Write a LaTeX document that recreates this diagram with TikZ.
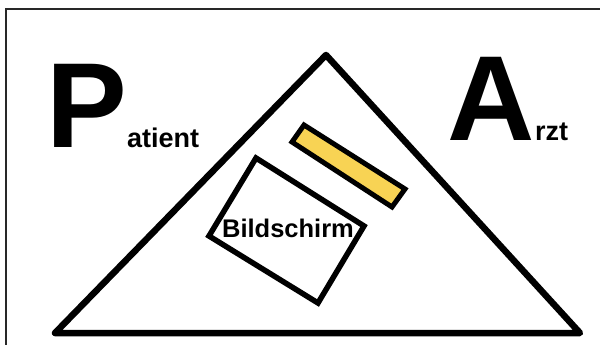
\documentclass[tikz,border=0pt]{standalone}
\usepackage{fontspec}
\setmainfont{Liberation Sans}
\definecolor{baryellow}{RGB}{248,211,84}
\definecolor{framegray}{RGB}{40,40,40}
\begin{document}
\begin{tikzpicture}[x=1pt,y=-1pt,
  outline/.style={draw=black,line width=6.5pt,line join=round},
  screenstyle/.style={draw=black,line width=5.5pt,line join=miter},
  barstyle/.style={draw=black,fill=baryellow,line width=5pt,line join=miter},
  bigletter/.style={inner sep=0pt,anchor=base west,font=\fontsize{121}{121}\selectfont\bfseries},
  smallword/.style={inner sep=0pt,anchor=base west,font=\fontsize{27}{27}\selectfont\bfseries}]
\useasboundingbox (0,0) rectangle (600,345);
\fill[white] (0,0) rectangle (600,345);
% frame (top and left edges)
\coordinate (fl) at (6,345);
\coordinate (ftl) at (6,9);
\coordinate (ftr) at (600,9);
\draw[framegray,line width=1.2pt] (fl) -- (ftl) -- (ftr);
% triangle
\coordinate (apex) at (326,55);
\coordinate (bl) at (55,333);
\coordinate (br) at (580,333);
\draw[outline] (apex) -- (br) -- (bl) -- cycle;
% screen
\coordinate (st) at (256,158);
\coordinate (sr) at (364,226);
\coordinate (sb) at (318,303);
\coordinate (sl) at (209,236);
\draw[screenstyle] (st) -- (sr) -- (sb) -- (sl) -- cycle;
% yellow bar
\coordinate (ya) at (304,125);
\coordinate (yb) at (405,189);
\coordinate (yc) at (392,207);
\coordinate (yd) at (292,142);
\draw[barstyle] (ya) -- (yb) -- (yc) -- (yd) -- cycle;
% texts
\node[bigletter] (P) at (46,147) {P};
\node[smallword] (patient) at (127,147) {atient};
\node[bigletter] (A) at (447,140) {A};
\node[smallword] (arzt) at (535,140) {rzt};
\node[inner sep=0pt,anchor=base,font=\fontsize{25.5}{25.5}\selectfont\bfseries] (bild) at (288,237) {Bildschirm};
\end{tikzpicture}
\end{document}
